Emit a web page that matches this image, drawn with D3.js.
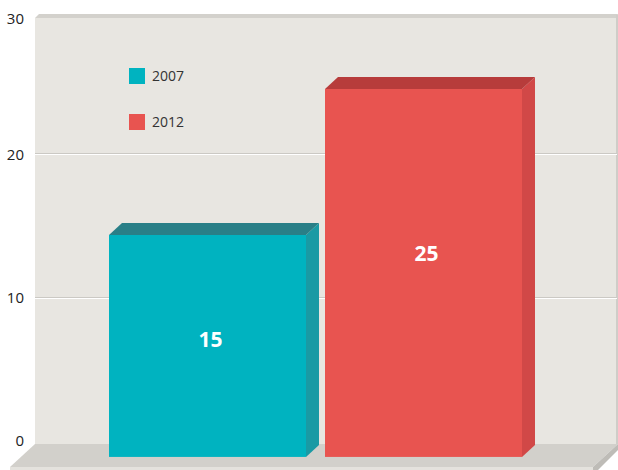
<!DOCTYPE html>
<html><head><meta charset="utf-8">
<script src="https://cdn.jsdelivr.net/npm/d3@7"></script>
<style>html,body{margin:0;padding:0;background:#fff;}svg{display:block;font-family:"Open Sans",sans-serif;}</style>
</head><body>
<svg id="c" width="618" height="470"></svg>
<script>
const categories = ["2007", "2012"];
const values = [15, 25];
const colors = ["#00b3c0", "#e85450"];
const topColors = ["#297f87", "#b73c3b"];
const sideColors = ["#1a9aa4", "#d14847"];
const tickValues = [0, 10, 20, 30];

const svg = d3.select("#c");
const depth = {dx: 13, dy: -12};

// scales
const yBack = d3.scaleLinear().domain([0, 30]).range([441, 11]);
const yFront = d3.scaleLinear().domain([0, 30]).range([454, 16]);
const x = d3.scaleBand().domain(categories).range([109, 522]).paddingInner(0.088).paddingOuter(0);

// back wall
const wallL = 35, wallR = 617, wallT = 18, wallB = 444;
svg.append("rect").attr("x", wallL).attr("y", wallT).attr("width", wallR - wallL).attr("height", wallB - wallT).attr("fill", "#e8e6e1");
svg.append("polygon").attr("points", [[wallL, wallT], [wallL + 4, wallT - 4], [wallR + 1, wallT - 4], [wallR, wallT]].join(" ")).attr("fill", "#d3d1cc");
svg.append("rect").attr("x", wallR - 1).attr("y", wallT - 3).attr("width", 2).attr("height", wallB - wallT + 3).attr("fill", "#cfcdc8");

// gridlines
tickValues.filter(v => v > 0 && v < 30).forEach(v => {
  const yy = Math.round(yBack(v));
  svg.append("line").attr("x1", wallL).attr("x2", wallR).attr("y1", yy - 0.5).attr("y2", yy - 0.5).attr("stroke", "#cbc9c4").attr("stroke-width", 1);
  svg.append("line").attr("x1", wallL).attr("x2", wallR).attr("y1", yy + 0.5).attr("y2", yy + 0.5).attr("stroke", "#ffffff").attr("stroke-width", 1);
});

// floor
svg.append("rect").attr("x", 10).attr("y", 467).attr("width", 584).attr("height", 3).attr("fill", "#e4e2dd");
svg.append("polygon").attr("points", [[wallL, wallB], [618, wallB], [593, 467], [10, 467]].join(" ")).attr("fill", "#d2d0cb");
svg.append("polygon").attr("points", [[618, wallB], [618, 450], [598, 470], [593, 470], [593, 467]].join(" ")).attr("fill", "#bebcb7");

// axis labels
svg.selectAll("text.tick").data(tickValues).join("text")
  .attr("class", "tick")
  .attr("x", 24).attr("y", d => Math.max(yBack(d), 18.5))
  .attr("dy", "0.35em").attr("text-anchor", "end")
  .attr("font-size", 15).attr("fill", "#222").text(d => d);

// bars
const bars = svg.selectAll("g.bar").data(categories.map((c, i) => ({c, v: values[i], i}))).join("g").attr("class", "bar");
bars.each(function(d) {
  const g = d3.select(this);
  const x0 = x(d.c), x1 = x0 + x.bandwidth();
  const y0 = yFront(-0.2), y1 = yFront(d.v);
  const {dx, dy} = depth;
  g.append("polygon").attr("points", [[x1, y1], [x1 + dx, y1 + dy], [x1 + dx, y0 + dy], [x1, y0]].join(" ")).attr("fill", sideColors[d.i]);
  g.append("polygon").attr("points", [[x0, y1], [x0 + dx, y1 + dy], [x1 + dx, y1 + dy], [x1, y1]].join(" ")).attr("fill", topColors[d.i]);
  g.append("rect").attr("x", x0).attr("y", y1).attr("width", x1 - x0).attr("height", y0 - y1).attr("fill", colors[d.i]);
  g.append("text").attr("x", (x0 + x1) / 2 + 3).attr("y", yFront(d.v * 0.59 - 1))
    .attr("dy", "0.35em").attr("text-anchor", "middle").attr("font-size", 21).attr("font-weight", "bold")
    .attr("fill", "#fff").text(d.v);
});

// legend
const leg = svg.selectAll("g.leg").data(categories).join("g").attr("class", "leg")
  .attr("transform", (d, i) => `translate(129, ${68 + i * 46})`);
leg.append("rect").attr("width", 16).attr("height", 16).attr("fill", (d, i) => colors[i]);
leg.append("text").attr("x", 23).attr("y", 8).attr("dy", "0.35em").attr("font-size", 14).attr("fill", "#333").text(d => d);
</script>
</body></html>
